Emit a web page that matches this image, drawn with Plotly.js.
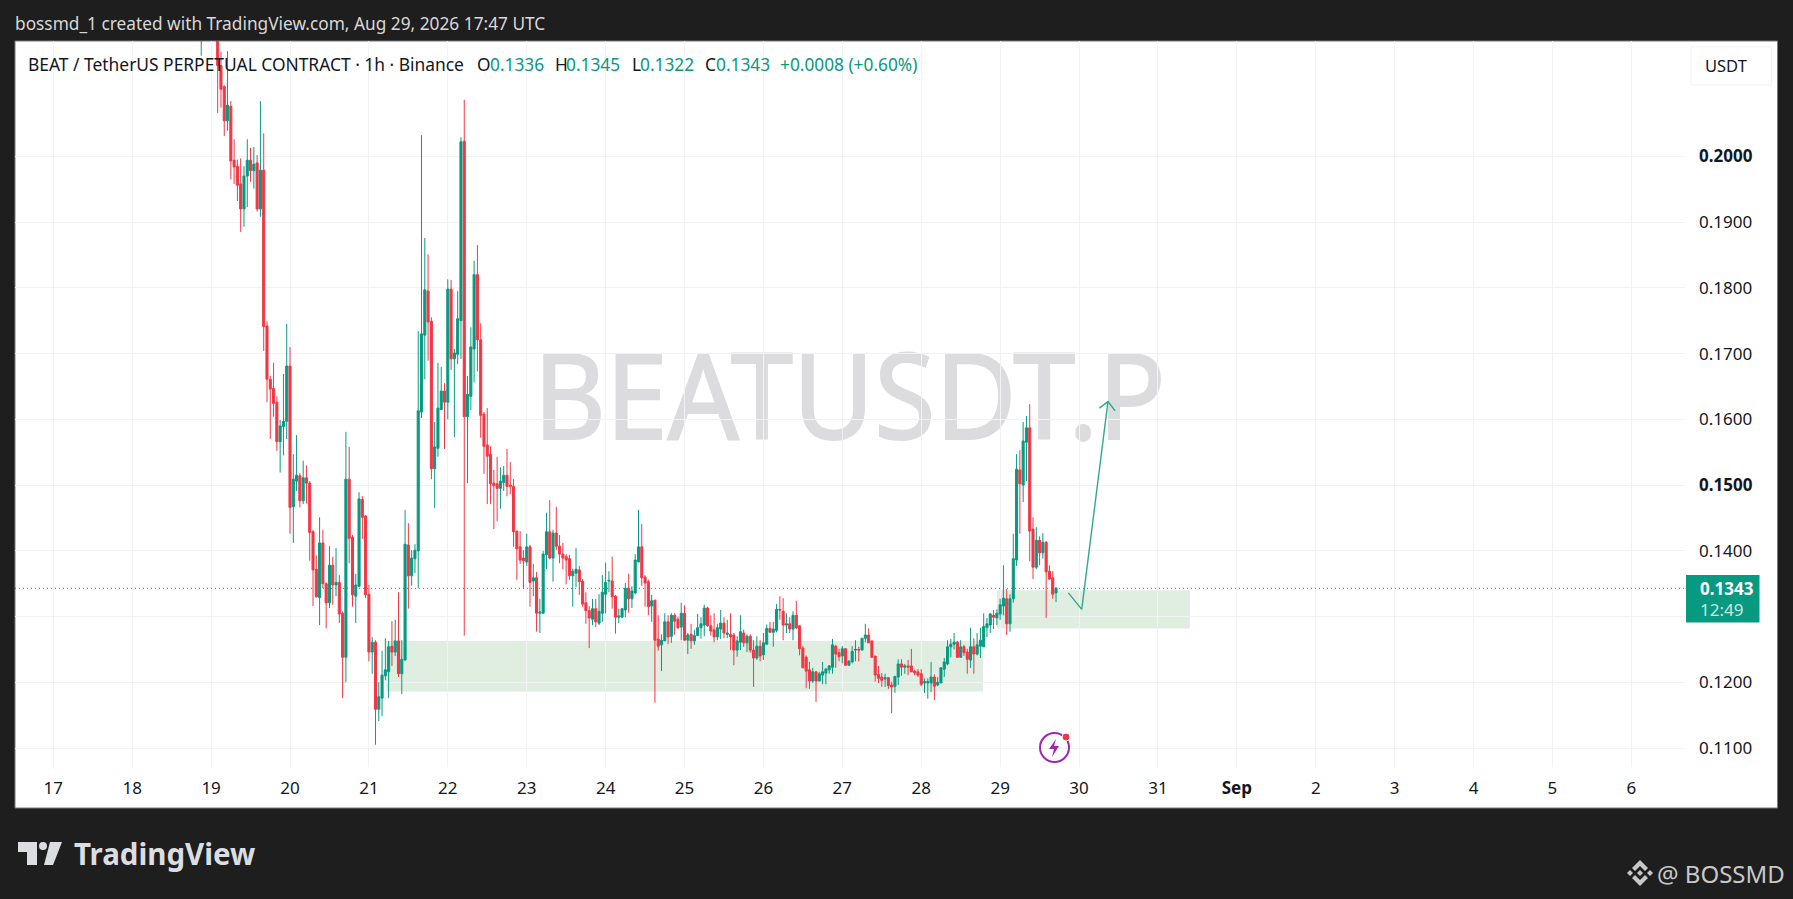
<!DOCTYPE html>
<html>
<head>
<meta charset="utf-8">
<script src="https://cdn.plot.ly/plotly-3.0.1.min.js"></script>
<style>
  html, body { margin: 0; padding: 0; background: #1e1e1e; overflow: hidden; }
  #chart { width: 1793px; height: 899px; }
</style>
</head>
<body>
<div id="chart"></div>
<script>
// hourly candles, first one is Aug 18 21:00 UTC
const firstBar = Date.UTC(2026, 7, 18, 21);

const open = [
  .2185,.2215,.2240,.2270,.2225,.2200,.2138,.2106,.2054,.2076,
  .1994,.1985,.1958,.1920,.1970,.1994,.1978,.1990,.1920,.1979,
  .1742,.1661,.1647,.1626,.1566,.1589,.1597,.1681,.1467,.1506,
  .1514,.1476,.1511,.1503,.1429,.1372,.1329,.1412,.1350,.1321,
  .1378,.1348,.1352,.1305,.1238,.1509,.1421,.1331,.1346,.1478,
  .1453,.1334,.1246,.1261,.1159,.1176,.1210,.1216,.1255,.1246,
  .1263,.1213,.1234,.1409,.1362,.1388,.1400,.1611,.1728,.1795,
  .1749,.1525,.1556,.1615,.1643,.1626,.1798,.1692,.1699,.1750,
  .2023,.1604,.1635,.1707,.1820,.1721,.1608,.1561,.1547,.1503,
  .1502,.1495,.1504,.1515,.1500,.1498,.1430,.1406,.1389,.1383,
  .1406,.1354,.1359,.1305,.1305,.1394,.1429,.1389,.1427,.1407,
  .1395,.1391,.1388,.1362,.1366,.1371,.1354,.1321,.1309,.1296,
  .1312,.1290,.1305,.1334,.1354,.1354,.1331,.1299,.1299,.1310,
  .1343,.1327,.1336,.1383,.1406,.1360,.1353,.1316,.1325,.1266,
  .1257,.1263,.1292,.1270,.1302,.1296,.1284,.1305,.1264,.1273,
  .1263,.1271,.1283,.1287,.1313,.1286,.1280,.1269,.1281,.1290,
  .1273,.1273,.1272,.1249,.1261,.1275,.1260,.1270,.1249,.1237,
  .1255,.1242,.1258,.1282,.1276,.1279,.1311,.1308,.1287,.1289,
  .1281,.1302,.1286,.1252,.1238,.1219,.1202,.1216,.1202,.1211,
  .1214,.1219,.1223,.1255,.1245,.1240,.1251,.1226,.1231,.1249,
  .1250,.1249,.1267,.1272,.1263,.1240,.1212,.1208,.1205,.1207,
  .1196,.1194,.1208,.1228,.1223,.1225,.1225,.1217,.1216,.1213,
  .1199,.1199,.1199,.1208,.1196,.1199,.1220,.1228,.1254,.1258,
  .1261,.1238,.1254,.1246,.1234,.1254,.1243,.1255,.1254,.1283,
  .1287,.1302,.1298,.1304,.1316,.1327,.1289,.1327,.1386,.1523,
  .1500,.1565,.1587,.1433,.1375,.1416,.1397,.1413,.1369,.1359,
  .1336
];
const high = [
  .2240,.2260,.2290,.2280,.2240,.2225,.2159,.2108,.2160,.2084,
  .2026,.1995,.1997,.1985,.2026,.2013,.2014,.2002,.2084,.2035,
  .1749,.1666,.1686,.1635,.1599,.1669,.1745,.1710,.1547,.1576,
  .1518,.1537,.1530,.1506,.1432,.1393,.1451,.1432,.1352,.1407,
  .1391,.1404,.1363,.1308,.1581,.1558,.1424,.1365,.1489,.1483,
  .1454,.1348,.1269,.1264,.1200,.1248,.1267,.1263,.1293,.1295,
  .1337,.1264,.1462,.1442,.1401,.1410,.1734,.2032,.1876,.1851,
  .1755,.1596,.1686,.1680,.1655,.1813,.1812,.1707,.1795,.2029,
  .2086,.1666,.1740,.1841,.1865,.1746,.1611,.1617,.1559,.1523,
  .1543,.1527,.1529,.1555,.1535,.1509,.1430,.1430,.1401,.1426,
  .1409,.1380,.1368,.1327,.1400,.1458,.1477,.1432,.1467,.1424,
  .1412,.1395,.1394,.1373,.1404,.1377,.1357,.1337,.1316,.1327,
  .1327,.1334,.1363,.1382,.1369,.1391,.1333,.1312,.1312,.1351,
  .1365,.1346,.1395,.1462,.1441,.1363,.1356,.1333,.1325,.1302,
  .1273,.1305,.1302,.1305,.1305,.1300,.1321,.1317,.1275,.1289,
  .1280,.1304,.1299,.1318,.1315,.1302,.1305,.1289,.1310,.1299,
  .1295,.1305,.1275,.1270,.1302,.1280,.1273,.1273,.1264,.1270,
  .1264,.1275,.1288,.1292,.1292,.1319,.1331,.1328,.1305,.1299,
  .1308,.1324,.1286,.1255,.1241,.1231,.1222,.1216,.1216,.1231,
  .1222,.1226,.1266,.1257,.1251,.1255,.1252,.1234,.1255,.1264,
  .1254,.1267,.1289,.1282,.1263,.1240,.1225,.1214,.1213,.1208,
  .1201,.1209,.1235,.1235,.1228,.1234,.1251,.1219,.1220,.1220,
  .1206,.1206,.1231,.1212,.1208,.1223,.1237,.1264,.1266,.1275,
  .1263,.1264,.1257,.1251,.1283,.1267,.1275,.1283,.1305,.1298,
  .1305,.1310,.1311,.1327,.1378,.1342,.1334,.1426,.1547,.1553,
  .1596,.1605,.1623,.1451,.1436,.1422,.1427,.1415,.1378,.1369,
  .1345
];
const low = [
  .2153,.2190,.2210,.2205,.2190,.2066,.2074,.2031,.2039,.1965,
  .1958,.1932,.1885,.1893,.1923,.1961,.1951,.1916,.1908,.1704,
  .1626,.1570,.1604,.1552,.1519,.1545,.1570,.1426,.1412,.1491,
  .1466,.1471,.1472,.1385,.1316,.1329,.1287,.1343,.1282,.1313,
  .1318,.1331,.1290,.1176,.1200,.1381,.1315,.1290,.1345,.1418,
  .1328,.1232,.1213,.1105,.1141,.1149,.1203,.1176,.1225,.1240,
  .1208,.1182,.1233,.1312,.1347,.1366,.1343,.1602,.1661,.1689,
  .1509,.1465,.1543,.1614,.1555,.1600,.1675,.1573,.1684,.1692,
  .1271,.1503,.1614,.1656,.1673,.1572,.1517,.1471,.1471,.1433,
  .1445,.1464,.1491,.1483,.1486,.1406,.1356,.1380,.1342,.1377,
  .1315,.1331,.1277,.1275,.1305,.1372,.1387,.1353,.1401,.1381,
  .1372,.1349,.1356,.1315,.1345,.1333,.1315,.1289,.1252,.1287,
  .1284,.1287,.1292,.1305,.1337,.1312,.1274,.1290,.1299,.1299,
  .1306,.1313,.1334,.1383,.1347,.1315,.1302,.1292,.1169,.1248,
  .1217,.1263,.1258,.1260,.1272,.1281,.1264,.1264,.1243,.1251,
  .1257,.1271,.1266,.1270,.1284,.1271,.1261,.1264,.1266,.1267,
  .1267,.1249,.1226,.1239,.1249,.1254,.1246,.1245,.1193,.1234,
  .1232,.1234,.1257,.1276,.1254,.1276,.1295,.1264,.1275,.1275,
  .1264,.1281,.1241,.1222,.1191,.1190,.1199,.1170,.1202,.1197,
  .1197,.1213,.1213,.1222,.1232,.1229,.1225,.1225,.1229,.1232,
  .1232,.1249,.1261,.1260,.1238,.1201,.1199,.1193,.1193,.1190,
  .1153,.1184,.1196,.1210,.1213,.1211,.1216,.1211,.1208,.1194,
  .1184,.1175,.1185,.1173,.1194,.1199,.1208,.1226,.1238,.1250,
  .1237,.1238,.1240,.1213,.1222,.1213,.1241,.1237,.1254,.1269,
  .1275,.1281,.1287,.1295,.1302,.1272,.1277,.1321,.1377,.1426,
  .1474,.1506,.1384,.1357,.1372,.1378,.1388,.1298,.1356,.1327,
  .1322
];
const close = [
  .2215,.2240,.2270,.2225,.2200,.2138,.2102,.2054,.2078,.1993,
  .1984,.1956,.1920,.1970,.1994,.1978,.1988,.1920,.1979,.1741,
  .1661,.1646,.1624,.1566,.1590,.1597,.1681,.1466,.1509,.1515,
  .1476,.1511,.1503,.1428,.1371,.1330,.1412,.1350,.1321,.1378,
  .1348,.1352,.1304,.1238,.1509,.1419,.1333,.1348,.1479,.1451,
  .1333,.1246,.1261,.1159,.1178,.1211,.1219,.1254,.1246,.1263,
  .1213,.1235,.1410,.1362,.1389,.1401,.1613,.1730,.1797,.1748,
  .1525,.1558,.1617,.1643,.1626,.1798,.1692,.1701,.1753,.2022,
  .1604,.1638,.1710,.1820,.1721,.1606,.1559,.1544,.1502,.1499,
  .1495,.1506,.1515,.1498,.1498,.1429,.1403,.1386,.1385,.1406,
  .1352,.1359,.1305,.1307,.1395,.1429,.1389,.1427,.1407,.1395,
  .1389,.1386,.1362,.1369,.1372,.1353,.1319,.1309,.1298,.1312,
  .1292,.1308,.1337,.1352,.1355,.1330,.1299,.1301,.1312,.1343,
  .1327,.1339,.1386,.1406,.1359,.1351,.1315,.1324,.1264,.1255,
  .1264,.1292,.1269,.1302,.1293,.1283,.1305,.1264,.1272,.1263,
  .1271,.1283,.1289,.1313,.1286,.1278,.1269,.1283,.1290,.1275,
  .1275,.1269,.1249,.1263,.1277,.1260,.1270,.1249,.1237,.1255,
  .1240,.1260,.1282,.1276,.1281,.1311,.1310,.1287,.1289,.1281,
  .1302,.1283,.1251,.1222,.1217,.1202,.1216,.1202,.1213,.1216,
  .1220,.1225,.1257,.1243,.1239,.1251,.1226,.1232,.1247,.1250,
  .1249,.1267,.1272,.1260,.1238,.1211,.1206,.1203,.1207,.1195,
  .1193,.1209,.1228,.1223,.1225,.1223,.1216,.1214,.1211,.1197,
  .1201,.1201,.1208,.1194,.1200,.1222,.1231,.1254,.1258,.1261,
  .1238,.1254,.1245,.1235,.1254,.1243,.1257,.1264,.1285,.1289,
  .1304,.1299,.1305,.1318,.1328,.1289,.1327,.1388,.1524,.1502,
  .1567,.1587,.1430,.1375,.1416,.1397,.1413,.1368,.1357,.1334,
  .1343
];

const priceTicks = [0.11, 0.12, 0.13, 0.14, 0.15, 0.16, 0.17, 0.18, 0.19, 0.20];
const priceLabels = ['0.1100', '0.1200', '', '0.1400', '<b>0.1500</b>', '0.1600', '0.1700', '0.1800', '0.1900', '<b>0.2000</b>'];
const dayTicks = ['2026-08-17', '2026-08-18', '2026-08-19', '2026-08-20', '2026-08-21', '2026-08-22', '2026-08-23',
  '2026-08-24', '2026-08-25', '2026-08-26', '2026-08-27', '2026-08-28', '2026-08-29', '2026-08-30', '2026-08-31',
  '2026-09-01', '2026-09-02', '2026-09-03', '2026-09-04', '2026-09-05', '2026-09-06'];
const dayLabels = ['17', '18', '19', '20', '21', '22', '23', '24', '25', '26', '27', '28', '29', '30', '31',
  '<b>Sep</b>', '2', '3', '4', '5', '6'];

const lastPrice = 0.1343;
const zoneDates = [['2026-08-21 05:12', '2026-08-28 18:48'], ['2026-08-28 23:03', '2026-08-31 09:42']];
const zonePrices = [[0.1186, 0.1263], [0.1282, 0.1340]];
const arrowDates = ['2026-08-29 20:45', '2026-08-30 00:49', '2026-08-30 08:48', null,
  '2026-08-30 06:12', '2026-08-30 08:48', '2026-08-30 10:58'];
const arrowPrices = [0.1336, 0.1311, 0.1627, null, 0.1617, 0.1627, 0.1613];

const times = open.map((_, i) => new Date(firstBar + i * 3600000).toISOString().slice(0, 16).replace('T', ' '));

const UP = '#089981';
const DOWN = '#F23645';
const FONT = '"Noto Sans", sans-serif';

// the frame is a fixed picture of 1793x899, the plot area inside it is this box
const plotL = 15, plotR = 1685, plotT = 41, plotB = 767;
const px = x => (x - plotL) / (plotR - plotL);
const py = y => (plotB - y) / (plotB - plotT);
const pathOf = pts => 'M' + pts.map(p => px(p[0]) + ',' + py(p[1])).join('L') + 'Z';

function label(x, y, text, size, color, anchor) {
  return {
    xref: 'paper', yref: 'paper', x: px(x), y: py(y), text: text, showarrow: false,
    xanchor: anchor || 'left', yanchor: 'middle', borderpad: 0,
    font: { family: FONT, size: size, color: color },
  };
}
function box(x0, y0, x1, y1, fill, line, layer) {
  return {
    type: 'rect', xref: 'paper', yref: 'paper', x0: px(x0), x1: px(x1), y0: py(y0), y1: py(y1),
    fillcolor: fill, line: line ? { color: line, width: 1 } : { width: 0 }, layer: layer || 'above',
  };
}
function poly(pts, fill) {
  return { type: 'path', xref: 'paper', yref: 'paper', path: pathOf(pts), fillcolor: fill, line: { width: 0 }, layer: 'above' };
}

const trace1 = {
  type: 'candlestick',
  x: times, open: open, high: high, low: low, close: close,
  increasing: { line: { color: UP, width: 1 }, fillcolor: UP },
  decreasing: { line: { color: DOWN, width: 1 }, fillcolor: DOWN },
  hoverinfo: 'skip',
};
const trace2 = {
  type: 'scatter', mode: 'lines', x: arrowDates, y: arrowPrices,
  line: { color: '#2fa98f', width: 1.4 }, connectgaps: false, hoverinfo: 'skip',
};

const shapes = [
  box(15, 41, 1777.5, 808, '#ffffff', '#7a7a7a', 'below'),
  {
    type: 'rect', xref: 'paper', yref: 'paper', x0: px(537), x1: px(1162), y0: py(444), y1: py(358),
    fillcolor: 'rgba(0,0,0,0)', line: { width: 0 }, layer: 'below',
    label: { text: 'BEATUSDT.P', textposition: 'middle center', font: { family: FONT, size: 118, color: '#dcdcde' } },
  },
  {
    type: 'rect', xref: 'x', yref: 'y', x0: zoneDates[0][0], x1: zoneDates[0][1], y0: zonePrices[0][0], y1: zonePrices[0][1],
    fillcolor: '#dfeee0', line: { width: 0 }, layer: 'below',
  },
  {
    type: 'rect', xref: 'x', yref: 'y', x0: zoneDates[1][0], x1: zoneDates[1][1], y0: zonePrices[1][0], y1: zonePrices[1][1],
    fillcolor: '#dfeee0', line: { width: 0 }, layer: 'below',
  },
  {
    type: 'line', xref: 'paper', yref: 'y', x0: 0, x1: 1, y0: lastPrice, y1: lastPrice,
    line: { color: UP, width: 1, dash: '1px,3px' }, layer: 'above',
  },
  box(1686, 575, 1759.5, 622.5, UP),
  box(1691, 47, 1771.5, 85, '#ffffff', '#f3f3f3'),
  // tradingview mark
  poly([[18, 842], [37, 842], [37, 865], [27, 865], [27, 852], [18, 852]], '#dcdde0'),
  { type: 'circle', xref: 'paper', yref: 'paper', x0: px(39), x1: px(47), y0: py(850), y1: py(842), fillcolor: '#dcdde0', line: { width: 0 } },
  poly([[50, 842], [62, 842], [53, 865], [44, 865]], '#dcdde0'),
  // binance mark
  poly([[1627, 873], [1630, 870], [1633, 873], [1630, 876]], '#c8c8c8'),
  poly([[1647, 873], [1650, 870], [1653, 873], [1650, 876]], '#c8c8c8'),
  poly([[1637, 873], [1640, 870], [1643, 873], [1640, 876]], '#c8c8c8'),
  poly([[1640, 860], [1648, 868], [1645, 871], [1640, 866], [1635, 871], [1632, 868]], '#c8c8c8'),
  poly([[1640, 886], [1648, 878], [1645, 875], [1640, 880], [1635, 875], [1632, 878]], '#c8c8c8'),
  // flash icon under the last bars
  { type: 'circle', xref: 'paper', yref: 'paper', x0: px(1040), x1: px(1069), y0: py(762), y1: py(733), fillcolor: 'rgba(0,0,0,0)', line: { color: '#9c27b0', width: 2 } },
  poly([[1056, 739], [1049, 749], [1054, 749], [1052, 757], [1059, 746], [1054, 746]], '#9c27b0'),
  { type: 'circle', xref: 'paper', yref: 'paper', x0: px(1062), x1: px(1070), y0: py(741), y1: py(733), fillcolor: '#f23645', line: { color: '#ffffff', width: 1 } },
];

const annotations = [
  label(14, 23, 'bossmd_1 created with TradingView.com, Aug 29, 2026 17:47 UTC', 17.3, '#d8d8d8'),
  label(27, 64, 'BEAT / TetherUS PERPETUAL CONTRACT · 1h · Binance', 17.4, '#131722'),
  label(476.5, 64, 'O', 17.3, '#131722'),
  label(489, 64, '0.1336', 17.3, UP),
  label(554, 64, 'H', 17.3, '#131722'),
  label(565, 64, '0.1345', 17.3, UP),
  label(630.5, 64, 'L', 17.3, '#131722'),
  label(639, 64, '0.1322', 17.3, UP),
  label(704, 64, 'C', 17.3, '#131722'),
  label(715, 64, '0.1343', 17.3, UP),
  label(779, 64, '+0.0008 (+0.60%)', 17.3, UP),
  label(1726, 66, 'USDT', 16.5, '#131722', 'center'),
  label(1699, 588, '<b>0.1343</b>', 17, '#ffffff'),
  label(1699, 609, '12:49', 17, '#c9e8e0'),
  label(73, 853, '<b>TradingView</b>', 29.5, '#dcdde0'),
  label(1655.5, 873, '@ BOSSMD', 24, '#c8c8c8'),
];

const layout = {
  width: 1793,
  height: 899,
  margin: { l: plotL, r: 1793 - plotR, t: plotT, b: 899 - plotB, pad: 0 },
  paper_bgcolor: '#1e1e1e',
  plot_bgcolor: 'rgba(0,0,0,0)',
  showlegend: false,
  boxgap: 0.1,
  dragmode: false,
  font: { family: FONT, color: '#131722', size: 17 },
  xaxis: {
    type: 'date',
    range: ['2026-08-16 12:21', '2026-09-06 16:19'],
    rangeslider: { visible: false },
    tickmode: 'array', tickvals: dayTicks, ticktext: dayLabels,
    ticks: '', ticklabelstandoff: 9,
    showgrid: true, gridcolor: '#f1f2f4', gridwidth: 1, zeroline: false, showline: false,
  },
  yaxis: {
    side: 'right',
    range: [0.10712, 0.21754],
    tickmode: 'array', tickvals: priceTicks, ticktext: priceLabels,
    ticks: '', ticklabelstandoff: 13,
    showgrid: true, gridcolor: '#f1f2f4', gridwidth: 1, zeroline: false, showline: false,
  },
  shapes: shapes,
  annotations: annotations,
};

const el = document.getElementById('chart');
Plotly.newPlot(el, [trace1, trace2], layout, { displayModeBar: false, staticPlot: true }).then(() => {
  // watermark font runs wider than the original one, squeeze it to the measured width
  const wm = el.querySelector('.shape-label-text') || el.querySelector('.shape-label text');
  if (wm) {
    wm.setAttribute('textLength', 632);
    wm.setAttribute('lengthAdjust', 'spacingAndGlyphs');
    wm.style.stroke = '#dcdcde';
    wm.style.strokeWidth = '2px';
  }
});
</script>
</body>
</html>
